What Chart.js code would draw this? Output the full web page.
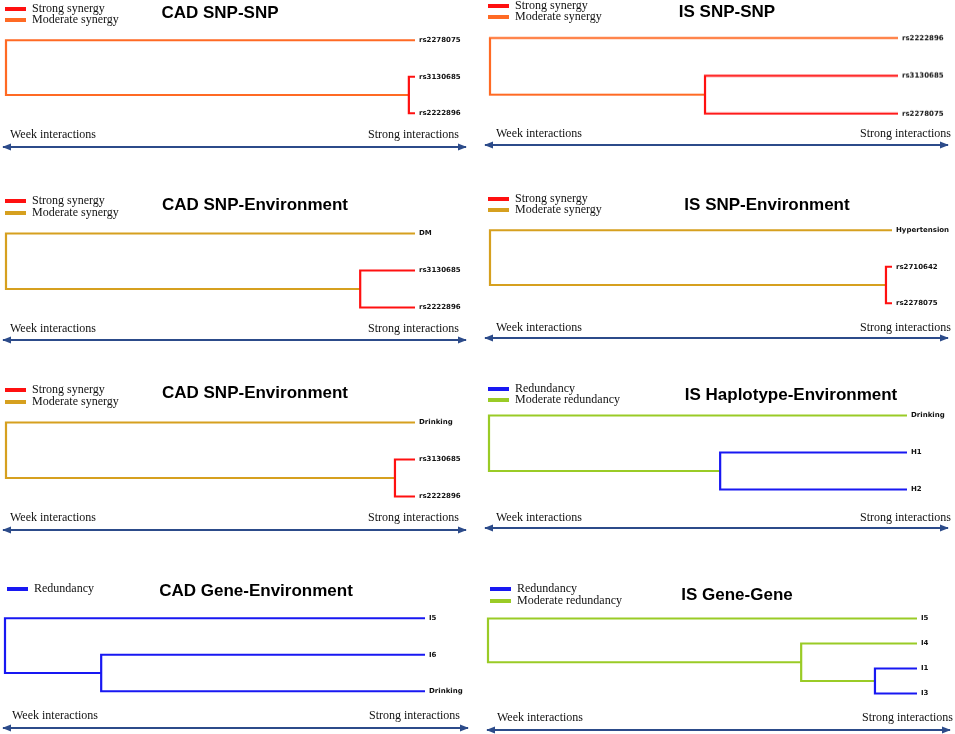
<!DOCTYPE html>
<html>
<head>
<meta charset="utf-8">
<script src="https://cdn.jsdelivr.net/npm/chart.js@4.4.1/dist/chart.umd.min.js"></script>
<style>
  body { margin: 0; background: #fff; width: 955px; height: 734px; position: relative; overflow: hidden; }
  .box { position: absolute; }
  .title { position: absolute; font: bold 17px "Liberation Sans", Arial, sans-serif; color: #000; white-space: nowrap; transform: translate(-50%, -50%); }
  .serif { position: absolute; font: 12px "Liberation Serif", "Times New Roman", serif; color: #111; white-space: nowrap; line-height: 14px; }
  .swatch { position: absolute; height: 4px; width: 21px; }
</style>
</head>
<body>
<svg id="arrows" width="955" height="734" style="position:absolute;left:0;top:0">
  <defs>
    <marker id="head" viewBox="0 0 10 10" refX="9" refY="5" markerWidth="5" markerHeight="5" orient="auto-start-reverse">
      <path d="M0,1 L10,5 L0,9 z" fill="#2c4b8a"></path>
    </marker>
  </defs>
</svg>
<script>
// legend and axis texts
const synergyLegend = ['Strong synergy', 'Moderate synergy'];
const redundancyLegend = ['Redundancy', 'Moderate redundancy'];
const axisEnds = ['Week interactions', 'Strong interactions'];

// each join: [child a, child b, interaction strength 0..100]; leaves sit at 100
// CAD SNP-SNP
const cadSnpSnpLeaves = ['rs2278075', 'rs3130685', 'rs2222896'];
const cadSnpSnpJoins = [[1, 2, 98.5], [0, 3, 0]];
const cadSnpSnpLevels = [0, 1];

// IS SNP-SNP
const isSnpSnpLeaves = ['rs2222896', 'rs3130685', 'rs2278075'];
const isSnpSnpJoins = [[1, 2, 52.7], [0, 3, 0]];
const isSnpSnpLevels = [0, 1];

// CAD SNP-Environment (DM)
const cadSnpDmLeaves = ['DM', 'rs3130685', 'rs2222896'];
const cadSnpDmJoins = [[1, 2, 86.6], [0, 3, 0]];
const cadSnpDmLevels = [0, 1];

// IS SNP-Environment
const isSnpEnvLeaves = ['Hypertension', 'rs2710642', 'rs2278075'];
const isSnpEnvJoins = [[1, 2, 98.5], [0, 3, 0]];
const isSnpEnvLevels = [0, 1];

// CAD SNP-Environment (Drinking)
const cadSnpDrinkLeaves = ['Drinking', 'rs3130685', 'rs2222896'];
const cadSnpDrinkJoins = [[1, 2, 95.1], [0, 3, 0]];
const cadSnpDrinkLevels = [0, 1];

// IS Haplotype-Environment
const isHapEnvLeaves = ['Drinking', 'H1', 'H2'];
const isHapEnvJoins = [[1, 2, 55.3], [0, 3, 0]];
const isHapEnvLevels = [0, 1];

// CAD Gene-Environment
const cadGeneEnvLeaves = ['I5', 'I6', 'Drinking'];
const cadGeneEnvJoins = [[1, 2, 22.9], [0, 3, 0]];
const cadGeneEnvLevels = [0, 0];

// IS Gene-Gene
const isGeneGeneLeaves = ['I5', 'I4', 'I1', 'I3'];
const isGeneGeneJoins = [[2, 3, 90.2], [1, 4, 73.0], [0, 5, 0]];
const isGeneGeneLevels = [0, 1, 1];

const RED = '#ff1010', ORANGE = '#ff6a24', GOLD = '#d6a01f', BLUE = '#1818f2', GREEN = '#9acb26';
const AXIS_W = 75, PAD_X = 4, PAD_Y = 10;

// page layout of every panel
const panels = [
  { title: 'CAD SNP-SNP', leaves: cadSnpSnpLeaves, joins: cadSnpSnpJoins, levels: cadSnpSnpLevels, legend: synergyLegend, colors: [RED, ORANGE],
    rootX: 6, leafX: 415, y0: 40, step: 36.5, titleX: 220, titleY: 13, legX: 5, legY: [9, 20], botY: 134, weekX: 10, strongR: 459, arrowY: 147, arrowX: [3, 466] },
  { title: 'IS SNP-SNP', leaves: isSnpSnpLeaves, joins: isSnpSnpJoins, levels: isSnpSnpLevels, legend: synergyLegend, colors: [RED, ORANGE],
    rootX: 490, leafX: 898, y0: 38, step: 37.5, titleX: 727, titleY: 12, legX: 488, legY: [6, 17], botY: 133, weekX: 496, strongR: 951, arrowY: 145, arrowX: [485, 948] },
  { title: 'CAD SNP-Environment', leaves: cadSnpDmLeaves, joins: cadSnpDmJoins, levels: cadSnpDmLevels, legend: synergyLegend, colors: [RED, GOLD],
    rootX: 6, leafX: 415, y0: 233, step: 37, titleX: 255, titleY: 205, legX: 5, legY: [201, 213], botY: 328, weekX: 10, strongR: 459, arrowY: 340, arrowX: [3, 466] },
  { title: 'IS SNP-Environment', leaves: isSnpEnvLeaves, joins: isSnpEnvJoins, levels: isSnpEnvLevels, legend: synergyLegend, colors: [RED, GOLD],
    rootX: 490, leafX: 892, y0: 230, step: 36.5, titleX: 767, titleY: 205, legX: 488, legY: [199, 210], botY: 327, weekX: 496, strongR: 951, arrowY: 338, arrowX: [485, 948] },
  { title: 'CAD SNP-Environment', leaves: cadSnpDrinkLeaves, joins: cadSnpDrinkJoins, levels: cadSnpDrinkLevels, legend: synergyLegend, colors: [RED, GOLD],
    rootX: 6, leafX: 415, y0: 422, step: 37, titleX: 255, titleY: 393, legX: 5, legY: [390, 402], botY: 517, weekX: 10, strongR: 459, arrowY: 530, arrowX: [3, 466] },
  { title: 'IS Haplotype-Environment', leaves: isHapEnvLeaves, joins: isHapEnvJoins, levels: isHapEnvLevels, legend: redundancyLegend, colors: [BLUE, GREEN],
    rootX: 489, leafX: 907, y0: 415, step: 37, titleX: 791, titleY: 395, legX: 488, legY: [389, 400], botY: 517, weekX: 496, strongR: 951, arrowY: 528, arrowX: [485, 948] },
  { title: 'CAD Gene-Environment', leaves: cadGeneEnvLeaves, joins: cadGeneEnvJoins, levels: cadGeneEnvLevels, legend: ['Redundancy'], colors: [BLUE],
    rootX: 5, leafX: 425, y0: 618, step: 36.5, titleX: 256, titleY: 591, legX: 7, legY: [589], botY: 715, weekX: 12, strongR: 460, arrowY: 728, arrowX: [3, 468] },
  { title: 'IS Gene-Gene', leaves: isGeneGeneLeaves, joins: isGeneGeneJoins, levels: isGeneGeneLevels, legend: redundancyLegend, colors: [BLUE, GREEN],
    rootX: 488, leafX: 917, y0: 618, step: 25, titleX: 737, titleY: 595, legX: 490, legY: [589, 601], botY: 717, weekX: 497, strongR: 953, arrowY: 730, arrowX: [487, 950] }
];

function addText(cls, text, x, y, style) {
  const el = document.createElement('div');
  el.className = cls;
  el.textContent = text;
  el.style.left = x + 'px';
  el.style.top = y + 'px';
  if (style) Object.assign(el.style, style);
  document.body.appendChild(el);
  return el;
}

const svg = document.getElementById('arrows');

panels.forEach(p => {
  const n = p.leaves.length;

  // node positions: leaves first, then joins in order
  const nodeY = p.leaves.map((_, i) => i);
  const nodeX = p.leaves.map(() => 100);
  p.joins.forEach(([a, b, s]) => {
    nodeY.push((nodeY[a] + nodeY[b]) / 2);
    nodeX.push(s);
  });

  const datasets = p.joins.map(([a, b, s], j) => ({
    data: [
      { x: nodeX[a], y: nodeY[a] },
      { x: s, y: nodeY[a] },
      { x: s, y: nodeY[b] },
      { x: nodeX[b], y: nodeY[b] }
    ],
    borderColor: p.colors[p.levels[j]],
    borderWidth: 2.2,
    borderCapStyle: 'butt',
    borderJoinStyle: 'miter',
    showLine: true,
    pointRadius: 0,
    tension: 0,
    clip: false
  }));

  // chart box; layout padding is larger than the tick label overhang so the plot area is exact
  const box = document.createElement('div');
  box.className = 'box';
  box.style.left = (p.rootX - PAD_X) + 'px';
  box.style.top = (p.y0 - p.step / 2 - PAD_Y) + 'px';
  box.style.width = (p.leafX - p.rootX + PAD_X + AXIS_W) + 'px';
  box.style.height = (n * p.step + 2 * PAD_Y) + 'px';
  const canvas = document.createElement('canvas');
  box.appendChild(canvas);
  document.body.appendChild(box);

  new Chart(canvas, {
    type: 'scatter',
    data: { datasets: datasets },
    options: {
      responsive: true,
      maintainAspectRatio: false,
      animation: false,
      events: [],
      layout: { padding: { left: PAD_X, top: PAD_Y, bottom: PAD_Y, right: 0 } },
      plugins: { legend: { display: false }, tooltip: { enabled: false } },
      scales: {
        x: { type: 'linear', min: 0, max: 100, display: false },
        y: {
          type: 'linear',
          position: 'right',
          reverse: true,
          min: -0.5,
          max: n - 0.5,
          grid: { display: false, drawTicks: false },
          border: { display: false },
          afterBuildTicks: s => { s.ticks = p.leaves.map((_, i) => ({ value: i })); },
          afterFit: s => { s.width = AXIS_W; },
          ticks: {
            autoSkip: false,
            padding: 4,
            color: '#111',
            font: { family: 'DejaVu Sans', size: 7, weight: 'bold' },
            callback: v => p.leaves[v]
          }
        }
      }
    }
  });

  // title
  addText('title', p.title, p.titleX, p.titleY);

  // legend
  p.legend.forEach((label, i) => {
    const sw = document.createElement('div');
    sw.className = 'swatch';
    sw.style.left = p.legX + 'px';
    sw.style.top = (p.legY[i] - 2) + 'px';
    sw.style.background = p.colors[i];
    document.body.appendChild(sw);
    addText('serif', label, p.legX + 27, p.legY[i] - 8);
  });

  // bottom labels
  addText('serif', axisEnds[0], p.weekX, p.botY - 7);
  addText('serif', axisEnds[1], p.strongR, p.botY - 7, { transform: 'translateX(-100%)' });

  // double-headed arrow
  const line = document.createElementNS('http://www.w3.org/2000/svg', 'line');
  line.setAttribute('x1', p.arrowX[0]);
  line.setAttribute('x2', p.arrowX[1]);
  line.setAttribute('y1', p.arrowY);
  line.setAttribute('y2', p.arrowY);
  line.setAttribute('stroke', '#2c4b8a');
  line.setAttribute('stroke-width', '1.8');
  line.setAttribute('marker-start', 'url(#head)');
  line.setAttribute('marker-end', 'url(#head)');
  svg.appendChild(line);
});
</script>
</body>
</html>
